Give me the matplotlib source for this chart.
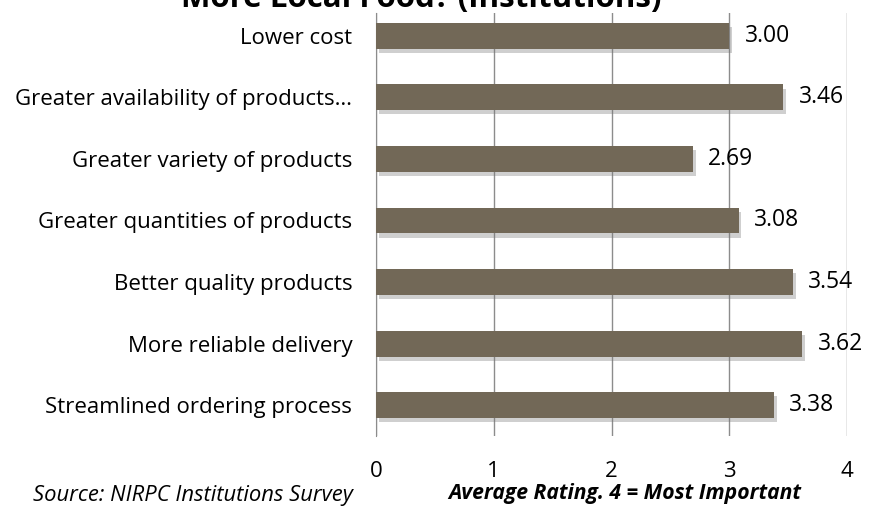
import numpy as np
import matplotlib.pyplot as plt
import matplotlib.patheffects as pe

categories = [
    "Lower cost",
    "Greater availability of products…",
    "Greater variety of products",
    "Greater quantities of products",
    "Better quality products",
    "More reliable delivery",
    "Streamlined ordering process",
]
ratings = [3.00, 3.46, 2.69, 3.08, 3.54, 3.62, 3.38]
xticks = [0, 1, 2, 3, 4]

plt.rcParams["font.family"] = ["Open Sans", "DejaVu Sans"]

fig = plt.figure(figsize=(8.84, 5.09), dpi=100)
ax = fig.add_axes([0.4253, 0.1434, 0.5329, 0.8311])

y = np.arange(len(categories))
bars = ax.barh(y, ratings, height=0.42, color="#726857", zorder=3)
for b in bars:
    b.set_path_effects([pe.SimplePatchShadow(offset=(2, -3), shadow_rgbFace="#777777", alpha=0.35),
                        pe.Normal()])

for yi, v in zip(y, ratings):
    ax.text(v + 0.13, yi, f"{v:.2f}", va="center", ha="left", fontsize=16.5, color="black", zorder=4)

ax.set_ylim(len(categories) - 0.5, -0.37)
ax.set_xlim(0, 4)
ax.set_yticks(y)
ax.set_yticklabels(categories, fontsize=16)
ax.set_xticks(xticks)
ax.set_xticklabels([str(t) for t in xticks], fontsize=16)
ax.tick_params(axis="both", length=0)
ax.tick_params(axis="x", pad=18)
ax.tick_params(axis="y", pad=17)

ax.grid(axis="x", color="#8c8c8c", linewidth=1, zorder=0)
for s in ["top", "right", "bottom"]:
    ax.spines[s].set_visible(False)
ax.spines["left"].set_color("#8c8c8c")

fig.text(0.476, 1 - 7 / 509, "More Local Food? (Institutions)", ha="center", va="baseline",
         fontsize=22.5, fontweight="bold")
fig.text(0.037, 1 - 496 / 509, "Source: NIRPC Institutions Survey", fontsize=15.8, style="italic",
         va="center", ha="left")
fig.text(0.707, 1 - 494 / 509, "Average Rating. 4 = Most Important", fontsize=15.2, style="italic",
         fontweight="bold", va="center", ha="center")

fig.savefig("out.png", dpi=100)
